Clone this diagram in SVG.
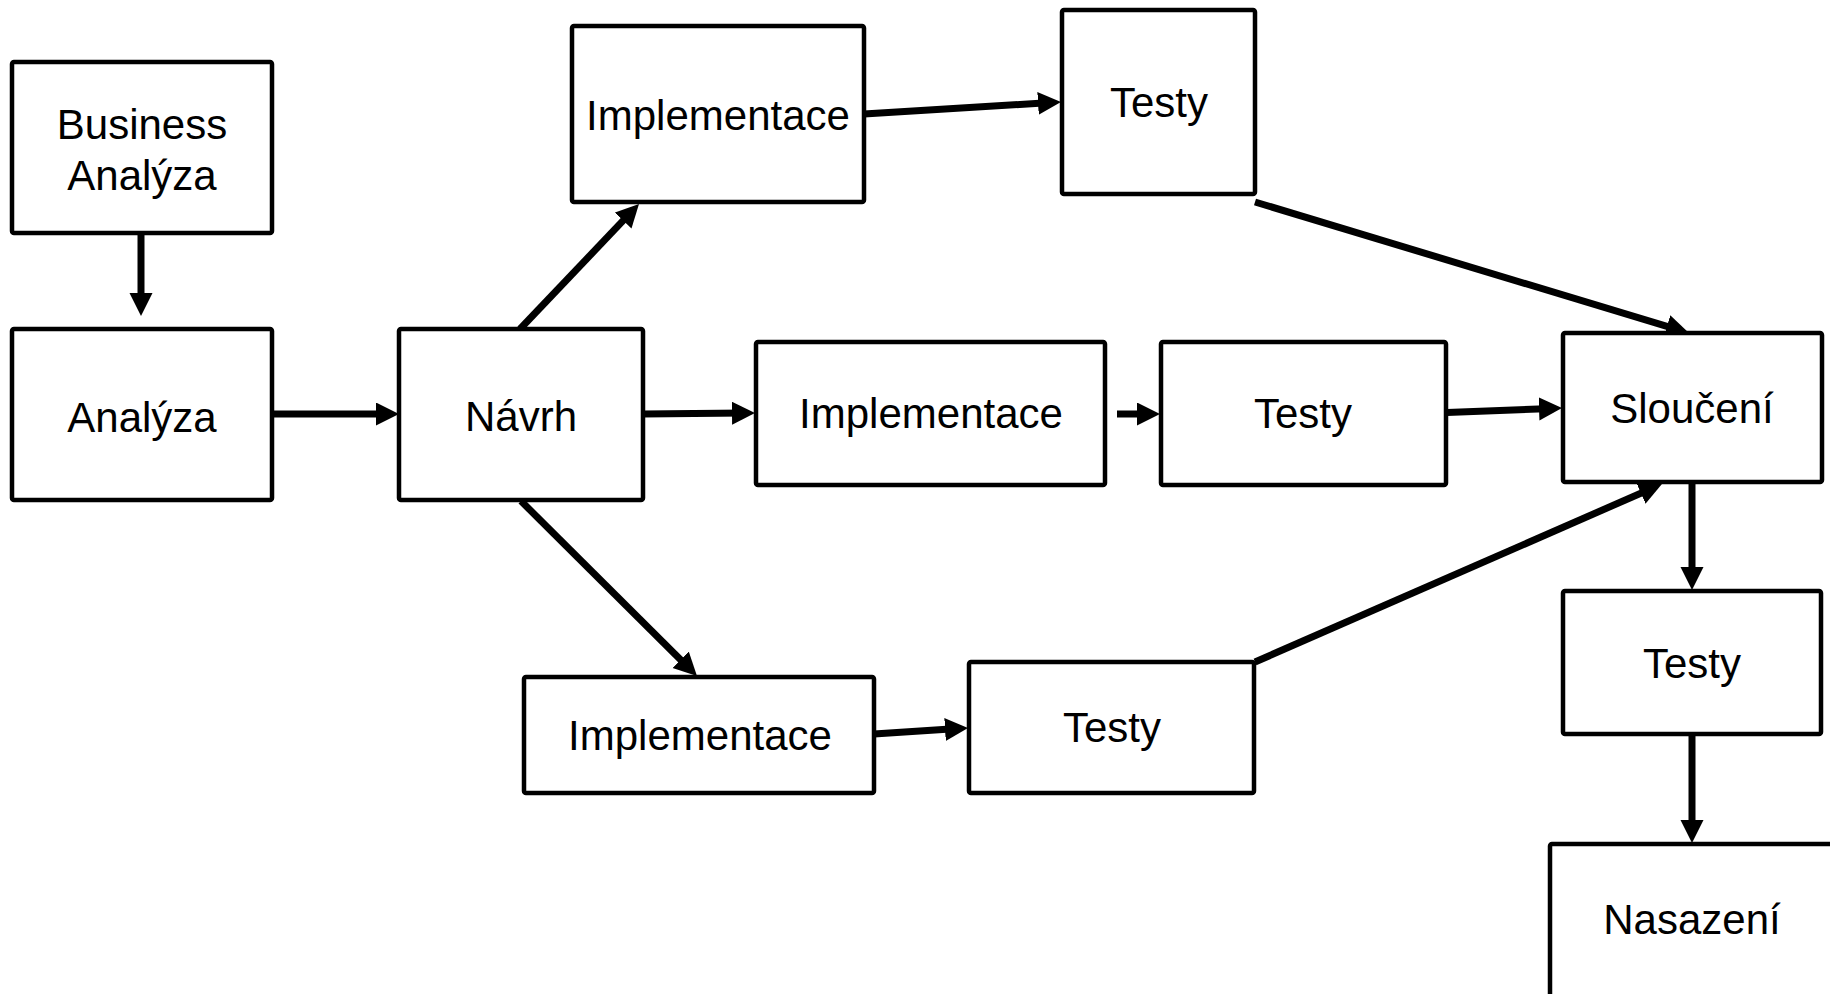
<svg xmlns="http://www.w3.org/2000/svg" width="1830" height="994" viewBox="0 0 1830 994">
<style>
.box{fill:#fff;stroke:#000;stroke-width:4.5;stroke-linejoin:round}
.lbl{font-family:"Liberation Sans",Arial,sans-serif;font-size:42px;fill:#000;text-anchor:middle}
.con{stroke:#000;stroke-width:7;fill:none;marker-end:url(#arr)}
</style>
<defs>
<marker id="arr" markerUnits="userSpaceOnUse" markerWidth="24" markerHeight="24" refX="13" refY="11.5" orient="auto" viewBox="0 0 24 24">
<path d="M0,0 L23,11.5 L0,23 z" fill="#000"/>
</marker>
</defs>
<rect width="1830" height="994" fill="#fff"/>
<g id="connectors">
<line class="con" x1="141" y1="233" x2="141" y2="306"/>
<line class="con" x1="272" y1="414" x2="389" y2="414"/>
<line class="con" x1="520" y1="329" x2="632.1" y2="211.2"/>
<line class="con" x1="864" y1="114" x2="1051" y2="102.6"/>
<line class="con" x1="643" y1="414" x2="745" y2="413.1"/>
<line class="con" x1="1117" y1="414" x2="1150" y2="414"/>
<line class="con" x1="1447" y1="412.5" x2="1552" y2="408.4"/>
<line class="con" x1="1255" y1="202" x2="1679.4" y2="330.1"/>
<line class="con" x1="521" y1="501" x2="689.9" y2="668.9"/>
<line class="con" x1="874" y1="734" x2="958" y2="728.6"/>
<line class="con" x1="1255" y1="662" x2="1652.8" y2="488"/>
<line class="con" x1="1692" y1="482" x2="1692" y2="580"/>
<line class="con" x1="1692" y1="734" x2="1692" y2="833"/>
</g>
<g id="business">
<rect class="box" x="12" y="62" width="260" height="171" rx="2"/>
<text class="lbl" x="142" y="139">Business</text>
<text class="lbl" x="142" y="190">Analýza</text>
</g>
<g id="analyza">
<rect class="box" x="12" y="329" width="260" height="171" rx="2"/>
<text class="lbl" x="142" y="432">Analýza</text>
</g>
<g id="navrh">
<rect class="box" x="399" y="329" width="244" height="171" rx="2"/>
<text class="lbl" x="521" y="431">Návrh</text>
</g>
<g id="impl-top">
<rect class="box" x="572" y="26" width="292" height="176" rx="2"/>
<text class="lbl" x="718" y="130">Implementace</text>
</g>
<g id="testy-top">
<rect class="box" x="1062" y="10" width="193" height="184" rx="2"/>
<text class="lbl" x="1159" y="117">Testy</text>
</g>
<g id="impl-mid">
<rect class="box" x="756" y="342" width="349" height="143" rx="2"/>
<text class="lbl" x="931" y="428">Implementace</text>
</g>
<g id="testy-mid">
<rect class="box" x="1161" y="342" width="285" height="143" rx="2"/>
<text class="lbl" x="1303" y="428">Testy</text>
</g>
<g id="slouceni">
<rect class="box" x="1563" y="333" width="259" height="149" rx="2"/>
<text class="lbl" x="1692" y="423">Sloučení</text>
</g>
<g id="impl-bottom">
<rect class="box" x="524" y="677" width="350" height="116" rx="2"/>
<text class="lbl" x="700" y="750">Implementace</text>
</g>
<g id="testy-bottom">
<rect class="box" x="969" y="662" width="285" height="131" rx="2"/>
<text class="lbl" x="1112" y="742">Testy</text>
</g>
<g id="testy-right">
<rect class="box" x="1563" y="591" width="258" height="143" rx="2"/>
<text class="lbl" x="1692" y="678">Testy</text>
</g>
<g id="nasazeni">
<rect class="box" x="1550" y="844" width="300" height="200" rx="2"/>
<text class="lbl" x="1692" y="934">Nasazení</text>
</g>
</svg>
